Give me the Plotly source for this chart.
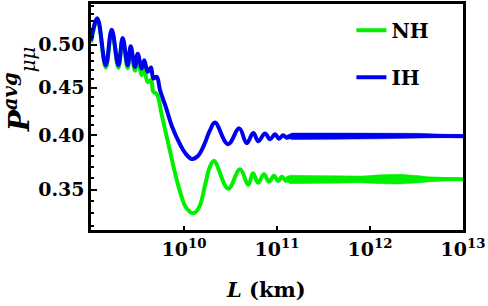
import plotly.graph_objects as go

# ---- data ----
L_ih = [1.00e9, 1.17e9, 1.44e9, 1.67e9, 1.97e9, 2.19e9, 2.48e9, 2.67e9, 2.97e9, 3.18e9,
        3.51e9, 3.74e9, 4.07e9, 4.42e9, 4.68e9, 5.09e9, 5.52e9, 6.41e9, 7.43e9, 9.06e9,
        1.05e10, 1.22e10, 1.41e10, 1.64e10, 1.90e10, 2.15e10, 2.97e10, 3.93e10, 4.72e10,
        5.56e10, 6.30e10, 7.43e10, 8.41e10, 9.52e10, 1.05e11, 1.16e11, 1.28e11, 1.45e11, 1.0e13]
P_ih = [0.5051, 0.5336, 0.4754, 0.5189, 0.4754, 0.5085, 0.4754, 0.4982, 0.4734, 0.4891,
        0.4716, 0.4812, 0.4677, 0.4727, 0.4602, 0.4620, 0.4473, 0.4282, 0.4088, 0.3913,
        0.3819, 0.3773, 0.3801, 0.3904, 0.4049, 0.4128, 0.3913, 0.4069, 0.3923,
        0.4024, 0.3942, 0.4019, 0.3961, 0.4010, 0.3966, 0.4000, 0.3976, 0.3990, 0.3990]

L_nh = [1.00e9, 1.17e9, 1.44e9, 1.67e9, 1.97e9, 2.19e9, 2.48e9, 2.67e9, 2.97e9, 3.18e9,
        3.51e9, 3.74e9, 4.07e9, 4.42e9, 4.68e9, 5.09e9, 5.76e9, 6.25e9, 7.07e9, 8.00e9,
        9.06e9, 1.05e10, 1.25e10, 1.45e10, 1.68e10, 1.90e10, 2.10e10, 2.99e10, 4.00e10,
        4.91e10, 5.52e10, 6.25e10, 7.25e10, 8.20e10, 9.28e10, 1.03e11, 1.13e11, 1.25e11,
        1.38e11, 1.0e13]
P_nh = [0.5027, 0.5316, 0.4725, 0.5170, 0.4725, 0.5064, 0.4719, 0.4954, 0.4690, 0.4847,
        0.4639, 0.4719, 0.4561, 0.4583, 0.4452, 0.4430, 0.4209, 0.4059, 0.3847, 0.3647,
        0.3482, 0.3349, 0.3301, 0.3349, 0.3533, 0.3700, 0.3755, 0.3508, 0.3678,
        0.3542, 0.3643, 0.3559, 0.3634, 0.3568, 0.3620, 0.3573, 0.3612, 0.3577,
        0.3590, 0.3590]

# envelopes of the fast-oscillation band at large L
L_nh_band = [1.25e11, 1.38e11, 3.72e11, 7.81e11, 1.28e12, 2.10e12, 3.45e12, 4.42e12, 6.41e12, 1.0e13]
P_nh_hi = [0.3612, 0.3625, 0.3620, 0.3616, 0.3629, 0.3634, 0.3620, 0.3605, 0.3600, 0.3599]
P_nh_lo = [0.3577, 0.3551, 0.3555, 0.3559, 0.3551, 0.3547, 0.3559, 0.3568, 0.3575, 0.3581]

L_ih_band = [1.28e11, 1.45e11, 3.72e11, 1.28e12, 3.45e12, 5.66e12, 1.0e13]
P_ih_hi = [0.4000, 0.4022, 0.4022, 0.4022, 0.4019, 0.4010, 0.4008]
P_ih_lo = [0.3976, 0.3958, 0.3961, 0.3966, 0.3968, 0.3976, 0.3981]

x_tickvals = [1e10, 1e11, 1e12, 1e13]
x_ticktext = ["10<sup>10</sup>", "10<sup>11</sup>", "10<sup>12</sup>", "10<sup>13</sup>"]
y_tickvals = [0.35, 0.40, 0.45, 0.50]
y_ticktext = ["0.35", "0.40", "0.45", "0.50"]
y_minorvals = [0.32, 0.33, 0.34, 0.36, 0.37, 0.38, 0.39, 0.41, 0.42, 0.43, 0.44,
               0.46, 0.47, 0.48, 0.49, 0.51, 0.52, 0.53, 0.54, 0.55]

GREEN = "#00f000"
BLUE = "#0000f0"
FONT = "DejaVu Serif"

fig = go.Figure()

fig.add_trace(go.Scatter(x=L_nh_band + L_nh_band[::-1], y=P_nh_hi + P_nh_lo[::-1],
                         fill="toself", fillcolor=GREEN, line=dict(width=0.5, color=GREEN),
                         mode="lines", showlegend=False, hoverinfo="skip"))
fig.add_trace(go.Scatter(x=L_nh, y=P_nh, mode="lines", name="NH",
                         legendgroup="nh",
                         line=dict(color=GREEN, width=4, shape="spline", smoothing=1.1)))
fig.add_trace(go.Scatter(x=L_ih_band + L_ih_band[::-1], y=P_ih_hi + P_ih_lo[::-1],
                         fill="toself", fillcolor=BLUE, line=dict(width=0.5, color=BLUE),
                         mode="lines", showlegend=False, hoverinfo="skip"))
fig.add_trace(go.Scatter(x=L_ih, y=P_ih, mode="lines", name="IH",
                         legendgroup="ih",
                         line=dict(color=BLUE, width=4, shape="spline", smoothing=1.1)))

fig.update_layout(
    width=488, height=306,
    margin=dict(l=91, r=25, t=1, b=76),
    paper_bgcolor="white", plot_bgcolor="white",
    font=dict(family=FONT, size=18, color="black"),
    showlegend=True,
    legend=dict(x=0.70, y=0.97, xanchor="left", yanchor="top",
                bgcolor="rgba(0,0,0,0)", font=dict(family=FONT, size=20, weight="bold"),
                traceorder="grouped", tracegroupgap=18),
    xaxis=dict(type="log", range=[9, 13], showgrid=False, zeroline=False,
               showline=True, linecolor="black", linewidth=2.5, mirror=True,
               ticks="inside", ticklen=4, tickwidth=2, tickcolor="black",
               tickmode="array", tickvals=x_tickvals, ticktext=x_ticktext,
               tickfont=dict(family=FONT, size=19, weight="bold")),
    yaxis=dict(type="log", range=[-0.49926, -0.25744], showgrid=False, zeroline=False,
               showline=True, linecolor="black", linewidth=2.5, mirror=True,
               ticks="inside", ticklen=6, tickwidth=2, tickcolor="black",
               tickmode="array", tickvals=y_tickvals, ticktext=y_ticktext,
               tickfont=dict(family=FONT, size=19, weight="bold"),
               minor=dict(tickmode="array", tickvals=y_minorvals, ticks="inside",
                          ticklen=3, tickwidth=1.5, tickcolor="black")),
    annotations=[
        dict(text="<b><i>L</i> (km)</b>", xref="paper", yref="paper",
             x=0.47, y=-0.262, xanchor="center", yanchor="middle", showarrow=False,
             font=dict(family=FONT, size=21)),
        dict(text="<b><i>P</i></b><sup><b><i>avg</i></b></sup><sub><i>μμ</i></sub>",
             xref="paper", yref="paper", x=-0.19, y=0.62, xanchor="center", yanchor="middle",
             textangle=-90, showarrow=False, font=dict(family=FONT, size=28)),
    ],
)

fig.write_html("out.html", config={"displayModeBar": False},
               post_script="document.body.style.margin='0';")
